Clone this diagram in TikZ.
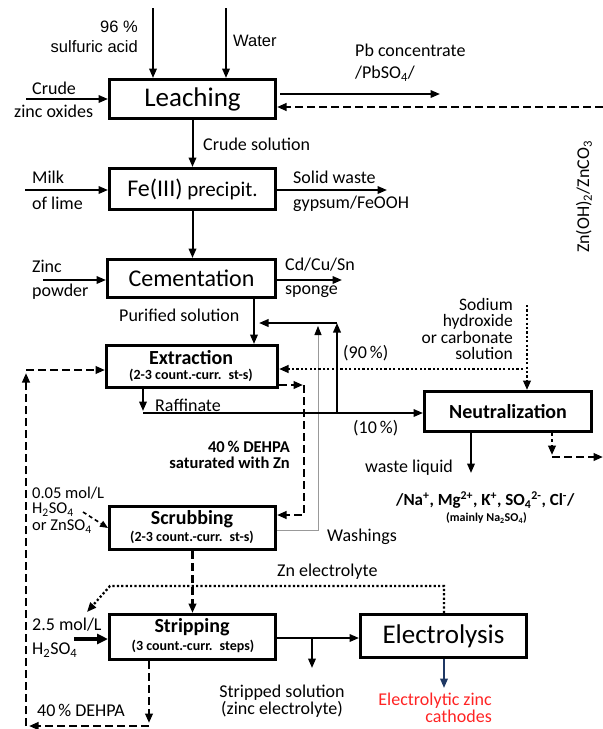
\documentclass[tikz,border=0pt]{standalone}
\usepackage{fontspec}
\setmainfont{Carlito}
\newfontfamily\arialf{Liberation Sans}
\usetikzlibrary{arrows.meta,calc}
\definecolor{redtxt}{RGB}{255,35,35}
\definecolor{navyc}{RGB}{31,56,100}
\begin{document}
\begin{tikzpicture}[x=1pt,y=-1pt,
  box/.style={draw, line width=2.8pt, inner sep=0pt},
  lbl/.style={inner sep=0pt, font=\fontsize{18}{18}\selectfont},
  albl/.style={inner sep=0pt, font=\arialf\fontsize{16.5}{16.5}\selectfont},
  ttl/.style={inner sep=0pt, font=\bfseries\fontsize{20}{20}\selectfont},
  subt/.style={inner sep=0pt, font=\bfseries\fontsize{14}{14}\selectfont},
  flow/.style={line width=2pt, -{Triangle[length=9.5pt,width=7.5pt]}},
  dashl/.style={line width=2.4pt, dash pattern=on 8pt off 4pt},
  dotl/.style={line width=2.3pt, dash pattern=on 2.2pt off 2.2pt},
  grayl/.style={line width=0.8pt, draw=black!40, -{Triangle[length=9pt,width=7pt,color=black]}},
  thickflow/.style={line width=3.2pt, -{Triangle[length=11pt,width=10pt]}}
]
\useasboundingbox (0,0) rectangle (603,729);

% ---------- boxes ----------
\node[box, minimum width=166.2pt, minimum height=39.2pt, font=\fontsize{27}{27}\selectfont] (leach) at (192.5,99) {Leaching};
\node[box, minimum width=166.2pt, minimum height=41.2pt, font=\fontsize{21}{21}\selectfont] (fe) at (192.5,189) {{\fontsize{24}{24}\selectfont Fe(III)} precipit.};
\node[box, minimum width=168.2pt, minimum height=38.2pt, font=\fontsize{24}{24}\selectfont] (cem) at (191.5,278.5) {Cementation};
\node[box, minimum width=171.2pt, minimum height=42.2pt] (extr) at (192,366.5) {};
\node[ttl] (extrT) at (191,358) {Extraction};
\node[subt] (extrS) at (191,375.5) {(2-3 count.-curr.\enspace st-s)};
\node[box, minimum width=166.2pt, minimum height=43.2pt] (scrub) at (192.5,528) {};
\node[ttl] (scrubT) at (192,519) {Scrubbing};
\node[subt] (scrubS) at (192,537) {(2-3 count.-curr.\enspace st-s)};
\node[box, minimum width=166.2pt, minimum height=45.2pt] (strip) at (192.5,637) {};
\node[ttl] (stripT) at (192,627.5) {Stripping};
\node[subt] (stripS) at (193,646) {(3 count.-curr.\enspace steps)};
\node[box, minimum width=167.2pt, minimum height=40.2pt, font=\bfseries\fontsize{20}{20}\selectfont] (neut) at (508,411.5) {Neutralization};
\node[box, minimum width=166.2pt, minimum height=43.2pt, font=\fontsize{27}{27}\selectfont] (elec) at (443.5,636) {Electrolysis};

% ---------- labels ----------
\node[albl, anchor=east] (l96) at (138,27) {96 \%};
\node[albl, anchor=east] (lsulf) at (138,47) {sulfuric acid};
\node[albl, anchor=west] (lwater) at (233,41) {Water};
\node[lbl, anchor=west] (lcrude) at (32,88) {Crude};
\node[lbl, anchor=west] (lzox) at (14,111) {zinc oxides};
\node[lbl, anchor=west] (lpb) at (355,50) {Pb concentrate};
\node[lbl, anchor=west] (lpbso) at (355,74) {/PbSO\textsubscript{4}/};
\node[lbl, anchor=west] (lcsol) at (203,144) {Crude solution};
\node[lbl, anchor=west] (lmilk) at (32,177) {Milk};
\node[lbl, anchor=west] (llime) at (32,203) {of lime};
\node[lbl, anchor=west] (lsw) at (293,177) {Solid waste};
\node[lbl, anchor=west] (lgyp) at (293,204) {gypsum/FeOOH};
\node[lbl, anchor=west] (lzinc) at (32,266) {Zinc};
\node[lbl, anchor=west] (lpow) at (32,292) {powder};
\node[lbl, anchor=west] (lcd) at (285,265) {Cd/Cu/Sn};
\node[lbl, anchor=west] (lspo) at (285,292) {sponge};
\node[lbl, anchor=west] (lpur) at (119,315) {Purified solution};
\node[lbl, rotate=90] (lznoh) at (584,197) {Zn(OH)\textsubscript{2}/ZnCO\textsubscript{3}};
\node[lbl, anchor=east, align=right, font=\fontsize{17.5}{16.5}\selectfont] (lnaoh) at (513,329) {Sodium\\hydroxide\\or carbonate\\solution};
\node[lbl, anchor=west] (l90) at (343,353) {(90\,\%)};
\node[lbl, anchor=west] (lraf) at (155,405) {Raffinate};
\node[lbl, anchor=west] (l10) at (353,428) {(10\,\%)};
\node[lbl, anchor=east, align=right, font=\bfseries\fontsize{16.5}{15.5}\selectfont] (lsat) at (290,455) {40\,\% DEHPA\\saturated with Zn};
\node[lbl, anchor=west] (lwl) at (365,468) {waste liquid};
\node[lbl, anchor=west, font=\bfseries\fontsize{17}{17}\selectfont] (lions) at (396,500) {/Na\textsuperscript{+}, Mg\textsuperscript{2+}, K\textsuperscript{+}, SO\textsubscript{4}\textsuperscript{2-}, Cl\textsuperscript{-}/};
\node[lbl, anchor=west, font=\bfseries\fontsize{12}{12}\selectfont] (lmain) at (446,518) {(mainly Na\textsubscript{2}SO\textsubscript{4})};
\node[lbl, anchor=west] (lwash) at (327,537) {Washings};
\node[lbl, anchor=west, font=\fontsize{16.5}{16.5}\selectfont] (l005) at (32,493) {0.05 mol/L};
\node[lbl, anchor=west, font=\fontsize{16.5}{16.5}\selectfont] (lh2a) at (32,509.5) {H\textsubscript{2}SO\textsubscript{4}};
\node[lbl, anchor=west, font=\fontsize{16.5}{16.5}\selectfont] (lznso) at (32,526.5) {or ZnSO\textsubscript{4}};
\node[lbl, anchor=west] (lzne) at (277,572) {Zn electrolyte};
\node[lbl, anchor=west] (l25) at (32,625) {2.5 mol/L};
\node[lbl, anchor=west] (lh2b) at (32,650) {H\textsubscript{2}SO\textsubscript{4}};
\node[lbl, anchor=west] (l40) at (37,710) {40\,\% DEHPA};
\node[lbl, align=center, font=\fontsize{18}{17}\selectfont] (lstr) at (282,701) {Stripped solution\\(zinc electrolyte)};
\node[lbl, anchor=east, align=right, text=redtxt, font=\fontsize{18}{17}\selectfont] (lcath) at (492,708) {Electrolytic zinc\\cathodes};

% ---------- connectors ----------
\coordinate (acid) at (153,8);
\draw[flow] (acid) -- (acid |- leach.north);
\coordinate (water) at (226,8);
\draw[flow] (water) -- (water |- leach.north);
\coordinate (czo) at (26,99);
\draw[flow] (czo) -- (czo -| leach.west);
\coordinate (pbB) at (440,94);
\draw[flow, shorten <=3pt] (leach.east |- pbB) -- (pbB);
\coordinate (znR) at (603,107);
\draw[flow, dashl] (znR) -- (leach.east |- znR);
\draw[flow] (leach.south) -- (fe.north);
\coordinate (milk) at (25,190);
\draw[flow] (milk) -- (milk -| fe.west);
\coordinate (sw) at (387,190);
\draw[flow] (sw -| fe.east) -- (sw);
\draw[flow] (fe.south) -- (fe.south |- cem.north);
\coordinate (zp) at (43,280);
\draw[flow] (zp) -- (zp -| cem.west);
\coordinate (cd) at (342,280);
\draw[flow] (cd -| cem.east) -- (cd);
\coordinate (pur) at (254,300);
\draw[flow] (pur |- cem.south) -- (pur |- extr.north);
% recycle 90 %
\coordinate (rec) at (337,323);
\coordinate (recE) at (259,323);
\coordinate (raf) at (143,413);
\draw[flow] (rec |- raf) -- (rec);
\draw[flow] (rec) -- (recE);
% washings (grey)
\coordinate (wash) at (318,530);
\coordinate (washT) at (318,326);
\draw[grayl] (scrub.east |- wash) -- (wash) -- (washT);
% sodium hydroxide dotted
\coordinate (naoh) at (527,305);
\draw[flow, dotl] (naoh) -- (naoh |- neut.north);
\coordinate (dotH) at (523,369);
\draw[flow, dotl] (dotH) -- (dotH -| extr.east);
% loaded organic to scrubbing
\coordinate (dcA) at (303,385);
\coordinate (dc) at (304,385);
\coordinate (dcB) at (304,515);
\draw[flow, dashl] (dcA -| extr.east) -- (dcA);
\draw[flow, dashl] (dc) -- (dcB) -- (dcB -| scrub.east);
% raffinate
\coordinate (rafT) at (143,411);
\draw[flow] (raf |- extr.south) -- (rafT);
\draw[flow] (raf) -- (raf -| neut.west);
% neutralization outputs
\coordinate (wl) at (471,473);
\draw[flow] (wl |- neut.south) -- (wl);
\coordinate (nd) at (552,457);
\coordinate (ndT) at (552,455);
\coordinate (ndR) at (603,457);
\draw[flow, dashl, dash pattern=on 3pt off 3pt] (nd |- neut.south) -- (ndT);
\draw[flow, dashl] (nd) -- (ndR);
% left DEHPA loop
\coordinate (lb) at (149,726);
\coordinate (lbT) at (149,723);
\coordinate (lcT) at (29,726);
\coordinate (lc) at (26,726);
\coordinate (ltT) at (26,373);
\coordinate (lt) at (26,370);
\draw[flow, dashl] (lb |- strip.south) -- (lbT);
\draw[flow, dashl] (lb) -- (lcT);
\draw[flow, dashl] (lc) -- (ltT);
\draw[flow, dashl] (lt) -- (lt -| extr.west);
% scrub feed
\coordinate (sa) at (83,512);
\draw[line width=1.6pt, dash pattern=on 4pt off 3pt, -{Triangle[length=8pt,width=6.5pt]}] (sa) -- (scrub.west);
\draw[flow, dashl] (scrub.south) -- (scrub.south |- strip.north);
% Zn electrolyte return
\coordinate (ze1) at (444,586);
\coordinate (ze2) at (110,586);
\coordinate (ze3) at (87,612);
\draw[flow, dotl] (ze1 |- elec.north) -- (ze1) -- (ze2) -- (ze3);
% strip acid
\coordinate (h2) at (74,639);
\draw[thickflow] (h2) -- (h2 -| strip.west);
% strip to electrolysis
\coordinate (se) at (312,638);
\coordinate (seD) at (312,668);
\draw[flow] (se -| strip.east) -- (se -| elec.west);
\draw[flow] (se) -- (seD);
\coordinate (ec) at (444,688);
\draw[flow, draw=navyc, -{Triangle[length=9.5pt,width=7.5pt,color=navyc]}] (ec |- elec.south) -- (ec);
\end{tikzpicture}
\end{document}
